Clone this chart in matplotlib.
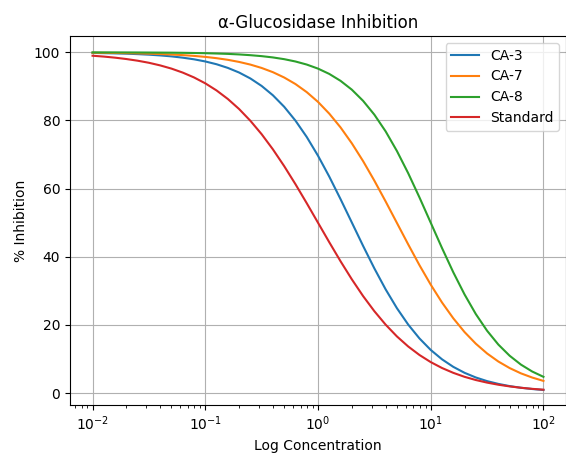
import matplotlib
matplotlib.use("Agg")
import matplotlib.pyplot as plt

log_conc = [-2.0, -1.9, -1.8, -1.7, -1.6, -1.5, -1.4, -1.3, -1.2, -1.1, -1.0,
            -0.9, -0.8, -0.7, -0.6, -0.5, -0.4, -0.3, -0.2, -0.1, 0.0,
            0.1, 0.2, 0.3, 0.4, 0.5, 0.6, 0.7, 0.8, 0.9, 1.0,
            1.1, 1.2, 1.3, 1.4, 1.5, 1.6, 1.7, 1.8, 1.9, 2.0]
conc = [10 ** v for v in log_conc]

ca3 = [99.83, 99.77, 99.70, 99.61, 99.48, 99.32, 99.10, 98.82, 98.44, 97.96, 97.33,
       96.51, 95.44, 94.08, 92.34, 90.14, 87.40, 84.03, 79.96, 75.17, 69.66,
       63.53, 56.92, 50.07, 43.20, 36.59, 30.44, 24.92, 20.11, 16.04, 12.66,
       9.91, 7.70, 5.95, 4.58, 3.51, 2.69, 2.05, 1.56, 1.19, 0.91]
ca7 = [99.89, 99.86, 99.82, 99.77, 99.71, 99.62, 99.51, 99.37, 99.19, 98.96, 98.67,
       98.29, 97.81, 97.19, 96.41, 95.42, 94.18, 92.62, 90.70, 88.33, 85.46,
       82.01, 77.97, 73.31, 68.08, 62.34, 56.24, 49.94, 43.65, 37.54, 31.82,
       26.59, 21.95, 17.91, 14.49, 11.62, 9.26, 7.34, 5.79, 4.56, 3.57]
ca8 = [99.99, 99.98, 99.98, 99.97, 99.96, 99.94, 99.92, 99.90, 99.86, 99.81, 99.75,
       99.66, 99.55, 99.39, 99.17, 98.89, 98.51, 98.00, 97.32, 96.42, 95.23,
       93.67, 91.64, 89.05, 85.77, 81.71, 76.81, 71.05, 64.54, 57.43, 50.00,
       42.57, 35.46, 28.95, 23.19, 18.29, 14.23, 10.96, 8.36, 6.33, 4.77]
standard = [99.01, 98.76, 98.44, 98.04, 97.55, 96.94, 96.17, 95.23, 94.06, 92.64, 90.91,
            88.82, 86.32, 83.37, 79.92, 75.98, 71.53, 66.61, 61.31, 55.73, 50.00,
            44.27, 38.69, 33.39, 28.47, 24.03, 20.08, 16.63, 13.68, 11.18, 9.09,
            7.36, 5.94, 4.77, 3.83, 3.07, 2.45, 1.96, 1.56, 1.24, 0.99]

series = [("CA-3", ca3), ("CA-7", ca7), ("CA-8", ca8), ("Standard", standard)]

fig = plt.figure(figsize=(5.66, 4.55), dpi=100)
ax = fig.add_axes([70 / 566, 50 / 455, 496 / 566, 369 / 455])
for name, vals in series:
    ax.plot(conc, vals, label=name, lw=1.5)
ax.set_xscale("log")
ax.set_xlim(10 ** -2.2, 10 ** 2.2)
ax.set_ylim(-3.5, 104.8)
ax.set_title("α-Glucosidase Inhibition")
ax.set_xlabel("Log Concentration")
ax.set_ylabel("% Inhibition")
ax.grid(True)
ax.legend(loc="upper right")
fig.savefig("out.png", dpi=100)
